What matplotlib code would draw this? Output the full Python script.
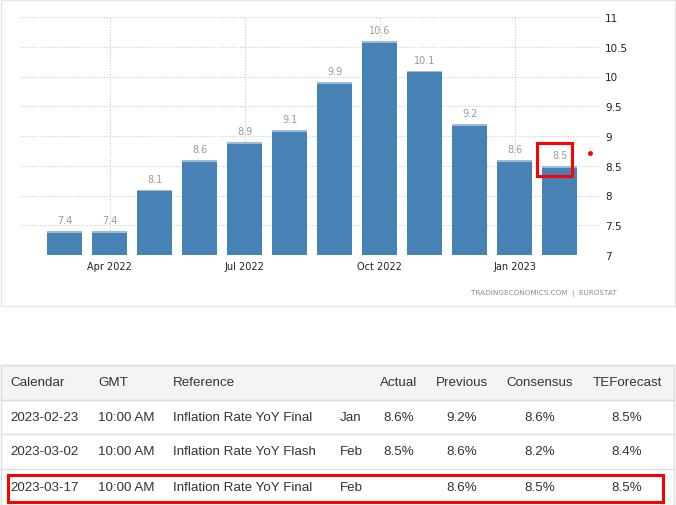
import matplotlib.pyplot as plt
from matplotlib.patches import Rectangle

months = ["Mar 2022", "Apr 2022", "May 2022", "Jun 2022", "Jul 2022", "Aug 2022",
          "Sep 2022", "Oct 2022", "Nov 2022", "Dec 2022", "Jan 2023", "Feb 2023"]
inflation = [7.4, 7.4, 8.1, 8.6, 8.9, 9.1, 9.9, 10.6, 10.1, 9.2, 8.6, 8.5]
tick_months = ["Apr 2022", "Jul 2022", "Oct 2022", "Jan 2023"]
y_ticks = [7, 7.5, 8, 8.5, 9, 9.5, 10, 10.5, 11]
forecast_dot = 8.72
source = "TRADINGECONOMICS.COM  |  EUROSTAT"

header = ["Calendar", "GMT", "Reference", "", "Actual", "Previous", "Consensus", "TEForecast"]
rows = [
    ["2023-02-23", "10:00 AM", "Inflation Rate YoY Final", "Jan", "8.6%", "9.2%", "8.6%", "8.5%"],
    ["2023-03-02", "10:00 AM", "Inflation Rate YoY Flash", "Feb", "8.5%", "8.6%", "8.2%", "8.4%"],
    ["2023-03-17", "10:00 AM", "Inflation Rate YoY Final", "Feb", "", "8.6%", "8.5%", "8.5%"],
]
col_x = [10, 98, 173, 340, 399, 462, 540, 627]
col_align = ["left", "left", "left", "left", "center", "center", "center", "center"]

W, H = 676, 506
fig = plt.figure(figsize=(W / 100, H / 100), dpi=100)

# chart area
ax = fig.add_axes([20 / W, 1 - 256 / H, 581 / W, 238 / H])
x = list(range(len(inflation)))
ax.bar(x, inflation, width=0.78, color="#4682b4", zorder=2)
ax.bar(x, [0.03] * len(x), bottom=[v - 0.03 for v in inflation], width=0.78,
       color="#9dbbd6", zorder=3)
for xi, v in zip(x, inflation):
    ax.text(xi, v + 0.1, f"{v:g}", ha="center", va="bottom", fontsize=7,
            color="#9a9a9a")

ax.set_xlim(-0.99, 11.92)
ax.set_ylim(7, 11)
ax.set_xticks([months.index(m) for m in tick_months])
ax.set_xticklabels(tick_months, fontsize=7, color="#222222")
ax.set_yticks(y_ticks)
ax.set_yticklabels([f"{t:g}" for t in y_ticks], fontsize=7.5, color="#222222")
ax.yaxis.tick_right()
ax.tick_params(length=0, axis="y", pad=3)
ax.tick_params(length=0, axis="x", pad=4)
ax.grid(True, linestyle=(0, (1, 1.5)), color="#cccccc", linewidth=0.8, zorder=0)
ax.set_axisbelow(True)
for s in ax.spines.values():
    s.set_visible(False)

# highlight on last bar label and next-release marker
last = len(inflation) - 1
ax.add_patch(Rectangle((last - 0.51, inflation[last] - 0.17), 0.79, 0.56,
                       fill=False, edgecolor="red", linewidth=2.2, clip_on=False, zorder=5))
ax.plot(last + 0.67, forecast_dot, "o", color="red", markersize=2.5, clip_on=False, zorder=5)

# overlay in pixel coordinates for borders and table
ov = fig.add_axes([0, 0, 1, 1], facecolor="none")
ov.set_xlim(0, W)
ov.set_ylim(H, 0)
ov.axis("off")

ov.add_patch(Rectangle((0.5, 0.5), 674.5, 306.5, fill=False, edgecolor="#e6e6e6", linewidth=1))
ov.text(617, 293.5, source, ha="right", va="center", fontsize=5.2, color="#8a8a8a")

# table
row_lines = [366, 401, 435, 470, 506]
ov.add_patch(Rectangle((0.5, 366), 673.5, 35, facecolor="#f4f4f4", edgecolor="#dddddd", linewidth=1))
for y in row_lines[1:]:
    ov.plot([0.5, 674], [y, y], color="#dddddd", linewidth=1)
ov.plot([0.5, 0.5], [366, 506], color="#dddddd", linewidth=1)
ov.plot([674, 674], [366, 506], color="#dddddd", linewidth=1)

font = dict(fontsize=9.6, family="Liberation Sans", color="#333333", va="center")
y_centers = [383.5, 418, 452.5, 488]
for cx, al, txt in zip(col_x, col_align, header):
    ov.text(cx, y_centers[0], txt, ha=al, **font)
for r, yc in zip(rows, y_centers[1:]):
    for cx, al, txt in zip(col_x, col_align, r):
        ov.text(cx, yc, txt, ha=al, **font)

ov.add_patch(Rectangle((8, 476), 655, 27, fill=False, edgecolor="red", linewidth=2.2))

fig.savefig("out.png", dpi=100)
